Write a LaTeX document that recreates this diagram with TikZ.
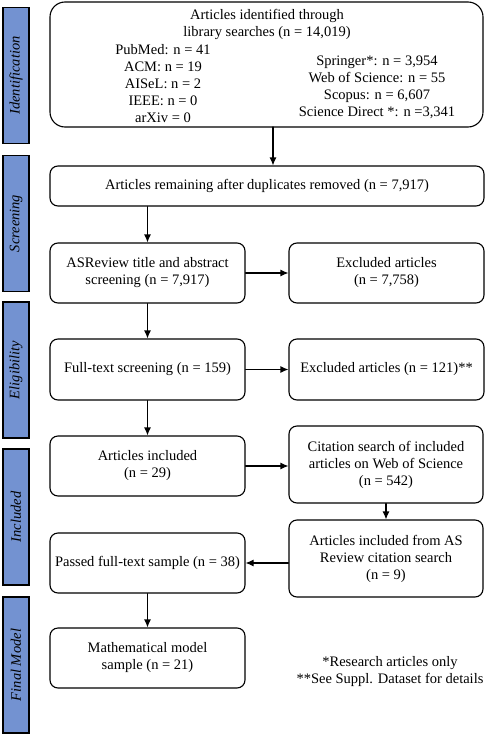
\documentclass[tikz,border=0pt]{standalone}
\usepackage{fontspec}
\setmainfont{Liberation Serif}
\usetikzlibrary{arrows.meta}
\usetikzlibrary{positioning}

\definecolor{stageblue}{RGB}{115,146,209}

\begin{document}
\begin{tikzpicture}[x=1pt,y=-1pt,line cap=round,line width=1.1pt,font=\fontsize{14.5}{17}\selectfont]
\tikzset{flowbox/.style={draw,rounded corners=8pt,align=center,inner sep=0pt,
        minimum width=195pt,minimum height=60pt}}
\tikzset{stagebar/.style={draw,fill=stageblue,rotate=90,inner sep=0pt,
        minimum width=136pt,minimum height=26pt,font=\fontsize{14.5}{17}\selectfont\itshape}}
\tikzset{plain/.style={align=center,inner sep=0pt}}
\tikzset{flowarrow/.style={-{Latex[length=8pt,width=7pt]}}}

\useasboundingbox (0,0) rectangle (485,734);

% stages
\node[stagebar] (ident) at (16,75.5) {Identification};
\node[stagebar] (screen) at (16,223.5) {Screening};
\node[stagebar] (elig) at (16,370) {Eligibility};
\node[stagebar] (incbar) at (16,517) {Included};
\node[stagebar] (final) at (16,665) {Final Model};

% identification box
\node[draw,rounded corners=15pt,inner sep=0pt,minimum width=433pt,minimum height=125pt] (top) at (266.5,64.5) {};
\node[plain] (toptext) at (267,24) {Articles identified through\\library searches (n = 14,019)};
\node[plain] (leftdb) at (163,84) {PubMed: n = 41\\ACM: n = 19\\AISeL: n = 2\\IEEE: n = 0\\arXiv = 0};
\node[plain] (rightdb) at (377,87.5) {Springer*: n = 3,954\\Web of Science: n = 55\\Scopus: n = 6,607\\Science Direct *: n =3,341};
\coordinate (split) at (273,127);

\node[flowbox,minimum width=434pt,minimum height=40pt] (rem) at (267,186) {Articles remaining after duplicates removed (n = 7,917)};
\node[flowbox] (asr) at (147.5,273) {ASReview title and abstract\\screening (n = 7,917)};
\node[flowbox] (exca) at (386.5,273) {Excluded articles\\(n = 7,758)};
\node[flowbox,minimum height=61pt] (full) at (147.5,369.5) {Full-text screening (n = 159)};
\node[flowbox,minimum height=61pt] (excb) at (386.5,369.5) {Excluded articles (n = 121)**};
\node[flowbox] (incl) at (147.5,466) {Articles included\\(n = 29)};
\node[flowbox,minimum width=194pt,minimum height=77pt] (cit) at (386,464.5) {Citation search of included\\articles on Web of Science\\(n = 542)};
\node[flowbox,minimum width=194pt,minimum height=77pt] (fromas) at (386,558.5) {Articles included from AS\\Review citation search\\(n = 9)};
\node[flowbox] (passed) at (147.5,563) {Passed full-text sample (n = 38)};
\node[flowbox] (math) at (147.5,658) {Mathematical model\\sample (n = 21)};

\node[plain] (notes) at (390,671.5) {*Research articles only\\**See Suppl. Dataset for details};

\draw[flowarrow] (split) -- (split |- rem.north);
\draw[flowarrow] (asr.north |- rem.south) -- (asr.north);
\draw[flowarrow] (asr.east) -- (exca.west);
\draw[flowarrow] (asr) -- (full);
\draw[flowarrow] (full.east) -- (excb.west);
\draw[flowarrow] (full) -- (incl);
\draw[flowarrow] (incl.east) -- (incl.east -| cit.west);
\draw[flowarrow] (cit) -- (fromas);
\draw[flowarrow] (fromas.west |- passed.east) -- (passed.east);
\draw[flowarrow] (passed) -- (math);
\end{tikzpicture}
\end{document}
